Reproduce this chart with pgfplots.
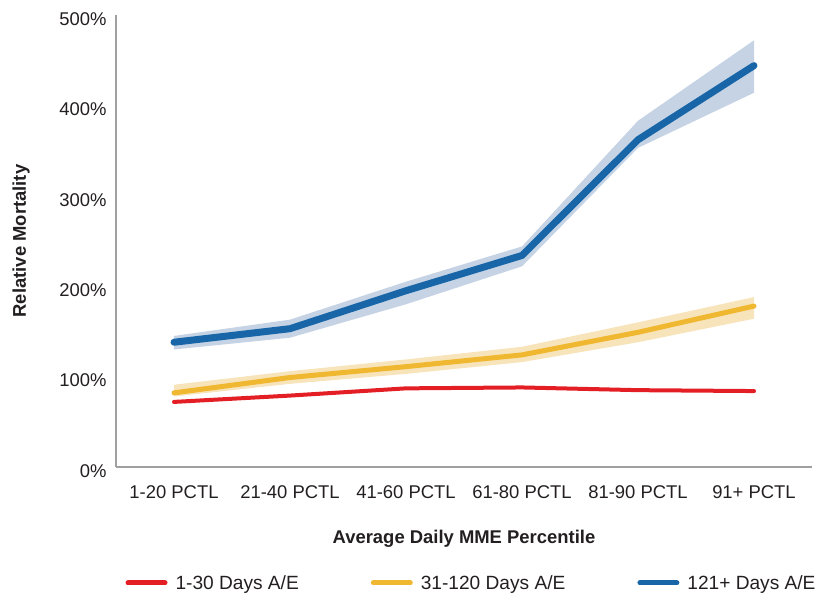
\documentclass[border=0pt]{standalone}
\usepackage{fontspec}
\setmainfont{Liberation Sans}
\usepackage{pgfplots}
\pgfplotsset{compat=1.18}

\definecolor{cred}{RGB}{227,30,36}
\definecolor{cyel}{RGB}{240,183,49}
\definecolor{cblue}{RGB}{24,102,168}
\definecolor{bblue}{RGB}{197,211,228}
\definecolor{byel}{RGB}{248,228,187}
\definecolor{txt}{RGB}{35,31,32}
\definecolor{axgray}{RGB}{160,160,160}

\newcommand{\fs}{\fontsize{18.5}{22}\selectfont}

\begin{document}
\begin{tikzpicture}
  \begin{axis}[
      scale only axis,
      width=696bp, height=452bp,
      xmin=-0.5, xmax=5.5,
      ymin=0, ymax=500,
      axis x line=bottom,
      axis y line=left,
      axis line style={-, draw=axgray, line width=1.5bp},
      major tick length=0pt,
      xtick={0,1,2,3,4,5},
      xticklabels={1-20 PCTL,21-40 PCTL,41-60 PCTL,61-80 PCTL,81-90 PCTL,91+ PCTL},
      ytick={0,100,200,300,400,500},
      yticklabels={0\%,100\%,200\%,300\%,400\%,500\%},
      tick label style={font=\fs, text=txt},
      xticklabel style={yshift=-15bp},
      yticklabel style={xshift=-6bp, yshift=-4bp},
      xlabel={\textbf{Average Daily MME Percentile}},
      ylabel={\textbf{Relative Mortality}},
      label style={font=\fs, text=txt},
      xlabel style={at={(axis description cs:0.5,0)}, anchor=center, yshift=-72bp},
      ylabel style={at={(axis description cs:-0.1365,0.5)}, anchor=center},
      legend columns=3,
      legend style={at={(axis description cs:0.5108,-0.2566)}, anchor=center,
        draw=none, fill=none, font=\fontsize{19.2}{23}\selectfont, text=txt,
        /tikz/every even column/.append style={column sep=70bp}},
      legend image code/.code={%
        \draw[#1, line width=5bp, line cap=round] (0bp,0bp) -- (37bp,0bp);},
    ]

    % confidence bands
    \addplot[fill=bblue, draw=none, forget plot] coordinates {
        (0,145) (1,163) (2,205) (3,244) (4,383) (5,472)
        (5,414) (4,353) (3,222) (2,180) (1,143) (0,130)} -- cycle;
    \addplot[fill=byel, draw=none, forget plot] coordinates {
        (0,91) (1,106) (2,119) (3,133) (4,160) (5,188)
        (5,164) (4,138) (3,116) (2,103) (1,92) (0,78)} -- cycle;

    % lines
    \addplot[cred, line width=4bp, line cap=round, line join=round] coordinates {
        (0,72) (1,79) (2,87) (3,88) (4,85) (5,84)};
    \addlegendentry{\hspace{6bp}1-30 Days A/E}
    \addplot[cyel, line width=5bp, line cap=round, line join=round] coordinates {
        (0,82) (1,99) (2,111) (3,124) (4,149) (5,178)};
    \addlegendentry{\hspace{6bp}31-120 Days A/E}
    \addplot[cblue, line width=7bp, line cap=round, line join=round] coordinates {
        (0,138) (1,153) (2,195) (3,234) (4,362) (5,444)};
    \addlegendentry{\hspace{6bp}121+ Days A/E}

    \coordinate (o) at (rel axis cs:0,0);
  \end{axis}
  \pgfresetboundingbox
  \path (o) ++(-116bp,-127bp) rectangle ++(817bp,594bp);
\end{tikzpicture}
\end{document}
